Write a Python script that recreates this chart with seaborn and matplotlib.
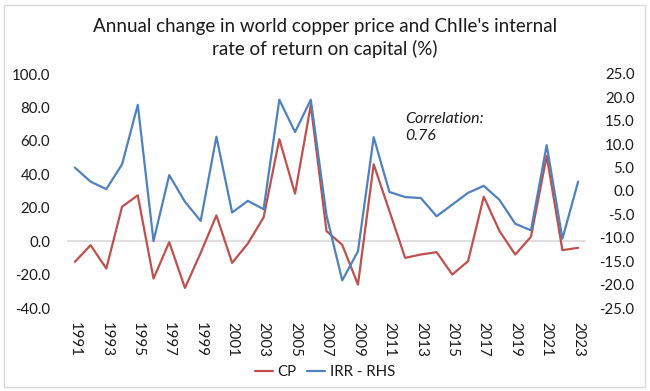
import matplotlib
matplotlib.use("Agg")
import matplotlib.pyplot as plt
import seaborn as sns
import pandas as pd
from matplotlib.patches import Rectangle

years = list(range(1991, 2024))
cp = [-12.4, -2.4, -16.4, 20.6, 27.4, -22.4, -0.6, -28.0, -7.0, 15.4,
      -13.0, -1.4, 14.2, 61.0, 28.4, 81.4, 6.0, -2.2, -26.0, 46.0,
      18.0, -10.0, -8.0, -6.6, -20.0, -12.0, 26.6, 6.0, -8.0, 2.6,
      51.0, -5.4, -4.0]
irr = [5.0, 2.0, 0.4, 5.7, 18.4, -10.7, 3.4, -2.3, -6.4, 11.6,
       -4.6, -2.1, -3.9, 19.5, 12.6, 19.5, -5.2, -19.1, -12.9, 11.5,
       -0.2, -1.3, -1.5, -5.4, -2.9, -0.4, 1.1, -1.9, -7.0, -8.4,
       9.8, -10.2, 2.0]
left_ticks = [-40, -20, 0, 20, 40, 60, 80, 100]
right_ticks = [-25, -20, -15, -10, -5, 0, 5, 10, 15, 20, 25]
xtick_years = years[::2]

title = "Annual change in world copper price and ChIle's internal\nrate of return on capital (%)"
red = "#C0504D"
blue = "#4F81BD"
txt = "#1a1a1a"

sns.set_theme(style="white")
plt.rcParams["font.family"] = ["Lato", "DejaVu Sans"]

df = pd.DataFrame({"year": years, "CP": cp, "IRR - RHS": irr})

fig = plt.figure(figsize=(6.5, 3.91), dpi=100)
ax = fig.add_axes([67 / 650, 1 - 308 / 391, (586 - 67) / 650, (308 - 74) / 391])
ax2 = ax.twinx()

sns.lineplot(data=df, x="year", y="CP", ax=ax, color=red, linewidth=1.6, label="CP", legend=False)
sns.lineplot(data=df, x="year", y="IRR - RHS", ax=ax2, color=blue, linewidth=1.6, label="IRR - RHS", legend=False)

ax.axhline(0, color="#d9d9d9", linewidth=1.2, zorder=0)

ax.set_xlim(1990.5, 2023.5)
ax.set_ylim(-40, 100)
ax2.set_ylim(-25, 25)
ax.set_yticks(left_ticks)
ax.set_yticklabels([f"{v:.1f}" for v in left_ticks])
ax2.set_yticks(right_ticks)
ax2.set_yticklabels([f"{v:.1f}" for v in right_ticks], ha="right")
ax.set_xticks(xtick_years)
ax.set_xticklabels([str(y) for y in xtick_years], rotation=270, va="top", ha="center")

for a in (ax, ax2):
    a.set_xlabel("")
    a.set_ylabel("")
    for s in a.spines.values():
        s.set_visible(False)
    a.grid(False)
    a.set_facecolor("none")

ax.tick_params(axis="y", length=0, pad=12, labelsize=10.8, labelcolor=txt)
ax.tick_params(axis="x", length=0, pad=10, labelsize=10.8, labelcolor=txt)
ax2.tick_params(axis="y", length=0, pad=35, labelsize=10.8, labelcolor=txt)

ax.text(2012.0, 68, "Correlation:\n0.76", fontsize=11.5, style="italic", color=txt,
        ha="left", va="center", linespacing=1.25)

fig.text(0.5, 1 - 38 / 391, title, ha="center", va="center", fontsize=13.5, color=txt,
         linespacing=1.3)

h1, l1 = ax.get_legend_handles_labels()
h2, l2 = ax2.get_legend_handles_labels()
fig.legend(h1 + h2, l1 + l2, loc="center", bbox_to_anchor=(0.5, 1 - 372 / 391), ncol=2,
           frameon=False, fontsize=10.8, handlelength=1.2, handletextpad=0.3, columnspacing=0.7,
           labelcolor=txt)

fig.patches.append(Rectangle((4 / 650, 4 / 391), 641 / 650, 382 / 391, transform=fig.transFigure,
                             fill=False, edgecolor="#d9d9d9", linewidth=1))

fig.savefig("out.png", dpi=100)
